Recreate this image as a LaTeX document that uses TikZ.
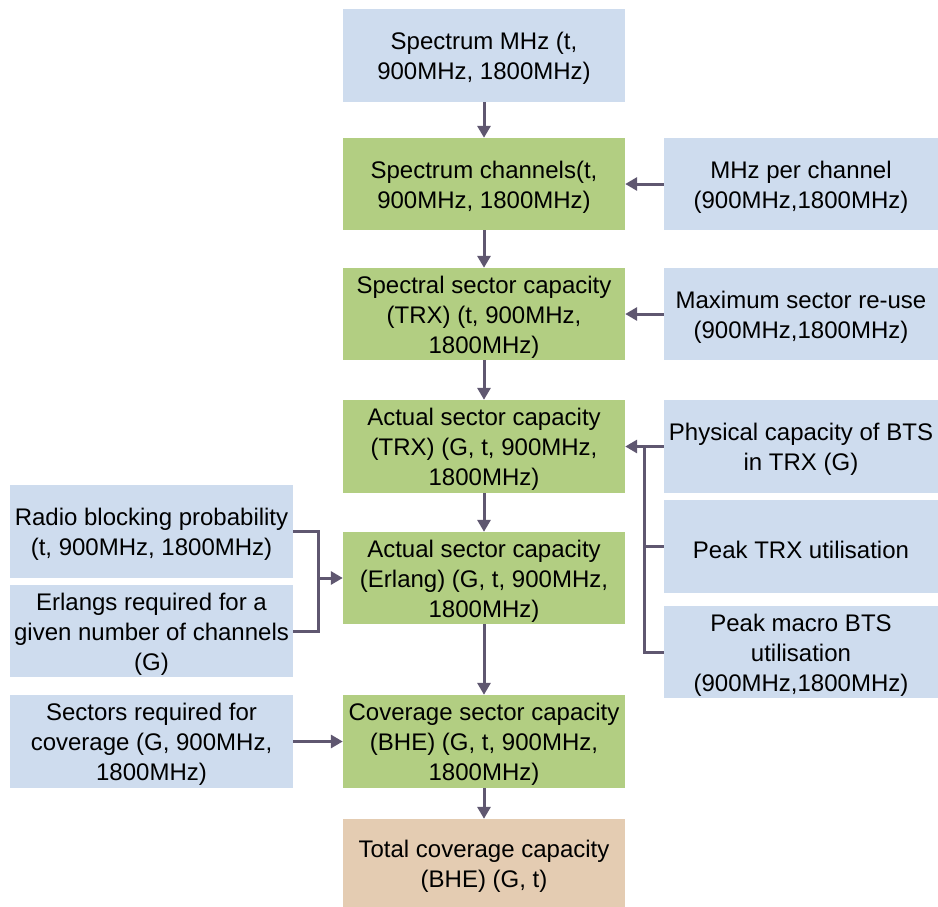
\documentclass[tikz,border=0pt]{standalone}
\usepackage{fontspec}
\setmainfont{Liberation Sans}
\usetikzlibrary{arrows.meta}
\definecolor{boxblue}{RGB}{206,220,238}
\definecolor{boxgreen}{RGB}{178,206,130}
\definecolor{boxtan}{RGB}{228,204,178}
\definecolor{conncol}{RGB}{95,87,112}
\tikzset{
  boxtext/.style={inner sep=0pt, align=center, yshift=-3pt,
    font=\fontsize{24}{30}\selectfont},
  basebox/.style={inner sep=0pt, anchor=center, draw=none},
  midcol/.style={basebox, minimum width=282pt},
  rightcol/.style={basebox, minimum width=274pt},
  leftcol/.style={basebox, minimum width=283pt},
  bluebox/.style={fill=boxblue},
  greenbox/.style={fill=boxgreen},
  tanbox/.style={fill=boxtan},
  conn/.style={draw=conncol, line width=3pt},
  arr/.style={conn, -{Triangle[length=12pt,width=13pt]}}
}
\begin{document}
\begin{tikzpicture}[x=1pt,y=-1pt]
\useasboundingbox (0,0) rectangle (938,907);
% centre column
\node[midcol,bluebox,minimum height=93pt,label={[boxtext]center:Spectrum MHz (t,\\900MHz, 1800MHz)}] (b1) at (484,55.5) {};
\node[midcol,greenbox,minimum height=92pt,label={[boxtext]center:Spectrum channels(t,\\900MHz, 1800MHz)}] (b2) at (484,184) {};
\node[midcol,greenbox,minimum height=92pt,label={[boxtext]center:Spectral sector capacity\\(TRX) (t, 900MHz,\\1800MHz)}] (b3) at (484,314) {};
\node[midcol,greenbox,minimum height=93pt,label={[boxtext]center:Actual sector capacity\\(TRX) (G, t, 900MHz,\\1800MHz)}] (b4) at (484,446.5) {};
\node[midcol,greenbox,minimum height=92pt,label={[boxtext]center:Actual sector capacity\\(Erlang) (G, t, 900MHz,\\1800MHz)}] (b5) at (484,578) {};
\node[midcol,greenbox,minimum height=93pt,label={[boxtext]center:Coverage sector capacity\\(BHE) (G, t, 900MHz,\\1800MHz)}] (b6) at (484,741.5) {};
\node[midcol,tanbox,minimum height=88pt,label={[boxtext]center:Total coverage capacity\\(BHE) (G, t)}] (b7) at (484,863) {};
% right column
\node[rightcol,bluebox,minimum height=92pt,label={[boxtext]center:MHz per channel\\(900MHz,1800MHz)}] (r1) at (801,184) {};
\node[rightcol,bluebox,minimum height=92pt,label={[boxtext]center:Maximum sector re-use\\(900MHz,1800MHz)}] (r2) at (801,314) {};
\node[rightcol,bluebox,minimum height=93pt,label={[boxtext]center:Physical capacity of BTS\\in TRX (G)}] (r3) at (801,446.5) {};
\node[rightcol,bluebox,minimum height=93pt,label={[boxtext]center:Peak TRX utilisation}] (r4) at (801,546.5) {};
\node[rightcol,bluebox,minimum height=92pt,label={[boxtext]center:Peak macro BTS\\utilisation\\(900MHz,1800MHz)}] (r5) at (801,652) {};
% left column
\node[leftcol,bluebox,minimum height=93pt,label={[boxtext]center:Radio blocking probability\\(t, 900MHz, 1800MHz)}] (l1) at (151.5,531.5) {};
\node[leftcol,bluebox,minimum height=92pt,label={[boxtext]center:Erlangs required for a\\given number of channels\\(G)}] (l2) at (151.5,631) {};
\node[leftcol,bluebox,minimum height=93pt,label={[boxtext]center:Sectors required for\\coverage (G, 900MHz,\\1800MHz)}] (l3) at (151.5,741.5) {};
% vertical chain
\draw[arr] (b1) -- (b2);
\draw[arr] (b2) -- (b3);
\draw[arr] (b3) -- (b4);
\draw[arr] (b4) -- (b5);
\draw[arr] (b5) -- (b6);
\draw[arr] (b6) -- (b7);
% right inputs
\draw[arr] (r1) -- (b2);
\draw[arr] (r2) -- (b3);
\coordinate (rbus) at (644,446.5);
\draw[arr] (r3.west) -- (b4.east);
\draw[conn] (r4.west) -- (r4.west -| rbus);
\draw[conn] (r5.west) -| (rbus);
% left inputs
\coordinate (lbus) at (318,578);
\draw[conn] (l1.east) -| (lbus) |- (l2.east);
\draw[arr] (lbus) -- (b5.west);
\draw[arr] (l3.east) -- (b6.west);
\end{tikzpicture}
\end{document}
